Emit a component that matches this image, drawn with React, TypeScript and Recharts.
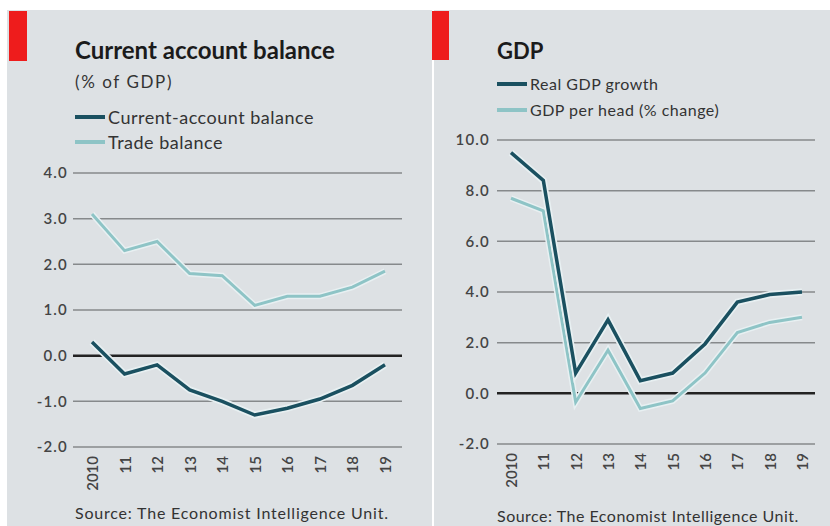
import React from 'react';
import { LineChart, Line, XAxis, YAxis, CartesianGrid } from 'recharts';

const years = ['2010', '11', '12', '13', '14', '15', '16', '17', '18', '19'];

const currentAccount = [0.3, -0.4, -0.2, -0.75, -1.0, -1.3, -1.15, -0.95, -0.65, -0.2];
const tradeBalance = [3.1, 2.3, 2.5, 1.8, 1.75, 1.1, 1.3, 1.3, 1.5, 1.85];
const realGdp = [9.5, 8.4, 0.8, 2.9, 0.5, 0.8, 1.95, 3.6, 3.9, 4.0];
const gdpPerHead = [7.7, 7.2, -0.35, 1.7, -0.6, -0.3, 0.8, 2.4, 2.8, 3.0];

const balanceTicks = [-2, -1, 0, 1, 2, 3, 4];
const gdpTicks = [-2, 0, 2, 4, 6, 8, 10];

const balanceData = years.map((year, i) => ({
  year,
  current: currentAccount[i],
  trade: tradeBalance[i],
}));

const gdpData = years.map((year, i) => ({
  year,
  real: realGdp[i],
  perHead: gdpPerHead[i],
}));

const DARK = '#1a5060';
const LIGHT = '#8ec4c6';
const HALO = '#e8f0f2';
const BG = '#dde1e4';
const GRID = '#86898b';
const FONT = 'Lato, "Open Sans", sans-serif';

const YearTick = (props: any) => {
  const { x, y, payload } = props;
  return (
    <g transform={`translate(${x},${y + 9})`}>
      <text
        transform="rotate(-90)"
        textAnchor="end"
        dominantBaseline="central"
        fill="#444"
        fontSize={15}
        fontFamily={FONT}
        fontWeight={600}
      >
        {payload.value}
      </text>
    </g>
  );
};

const LegendRow = ({ left, top, color, label, size, spacing }: any) => (
  <div style={{ position: 'absolute', left, top, display: 'flex', alignItems: 'center' }}>
    <div style={{ width: 30, height: 4, background: color, marginRight: 3 }} />
    <span style={{ fontSize: size, color: '#333', letterSpacing: spacing }}>{label}</span>
  </div>
);

export default function App() {
  const yTick = { fill: '#444', fontSize: 15, fontFamily: FONT, fontWeight: 600, letterSpacing: 1.2 };
  return (
    <div
      style={{
        position: 'absolute',
        left: 0,
        top: 0,
        width: 830,
        height: 526,
        background: '#fff',
        fontFamily: FONT,
        overflow: 'hidden',
      }}
    >
      {/* panel backgrounds */}
      <div style={{ position: 'absolute', left: 7, top: 10, width: 425, height: 516, background: BG }} />
      <div style={{ position: 'absolute', left: 434, top: 10, width: 396, height: 516, background: BG }} />
      <div style={{ position: 'absolute', left: 9, top: 11, width: 18, height: 50, background: '#ee1c1c' }} />
      <div style={{ position: 'absolute', left: 432, top: 11, width: 17, height: 49, background: '#ee1c1c' }} />

      {/* left header */}
      <div style={{ position: 'absolute', left: 75, top: 35, fontSize: 24, fontWeight: 700, color: '#1b1b1b' }}>
        Current account balance
      </div>
      <div style={{ position: 'absolute', left: 75, top: 71, fontSize: 17, color: '#333', letterSpacing: 1.6 }}>
        (% of GDP)
      </div>
      <LegendRow left={75} top={106} color={DARK} label="Current-account balance" size={18} spacing={0.5} />
      <LegendRow left={75} top={131} color={LIGHT} label="Trade balance" size={18} spacing={0.5} />

      {/* right header */}
      <div style={{ position: 'absolute', left: 497, top: 37, fontSize: 22, fontWeight: 700, color: '#1b1b1b' }}>
        GDP
      </div>
      <LegendRow left={497} top={74} color={DARK} label="Real GDP growth" size={16} spacing={0.5} />
      <LegendRow left={497} top={100} color={LIGHT} label="GDP per head (% change)" size={16} spacing={0.5} />

      <LineChart
        width={415}
        height={526}
        data={balanceData}
        margin={{ top: 173, right: 13, bottom: 0, left: 0 }}
        style={{ position: 'absolute', left: 0, top: 0 }}
      >
        <CartesianGrid vertical={false} stroke={GRID} strokeWidth={1.5} />
        <CartesianGrid vertical={false} horizontalValues={[0]} stroke="#222" strokeWidth={2.5} />
        <XAxis
          dataKey="year"
          height={79}
          axisLine={false}
          tickLine={false}
          tickSize={0}
          tickMargin={0}
          interval={0}
          padding={{ left: 19, right: 17 }}
          tick={<YearTick />}
        />
        <YAxis
          width={73}
          domain={[-2, 4]}
          ticks={balanceTicks}
          interval={0}
          axisLine={false}
          tickLine={false}
          tickSize={0}
          tickMargin={5}
          tick={yTick}
          tickFormatter={(v: number) => v.toFixed(1)}
        />
        <Line dataKey="trade" stroke={HALO} strokeWidth={6} dot={false} isAnimationActive={false} />
        <Line dataKey="trade" stroke={LIGHT} strokeWidth={3} dot={false} isAnimationActive={false} />
        <Line dataKey="current" stroke={HALO} strokeWidth={7} dot={false} isAnimationActive={false} />
        <Line dataKey="current" stroke={DARK} strokeWidth={3.5} dot={false} isAnimationActive={false} />
      </LineChart>

      <LineChart
        width={415}
        height={526}
        data={gdpData}
        margin={{ top: 140, right: 15, bottom: 0, left: 0 }}
        style={{ position: 'absolute', left: 415, top: 0 }}
      >
        <CartesianGrid vertical={false} stroke={GRID} strokeWidth={1.5} />
        <CartesianGrid vertical={false} horizontalValues={[0]} stroke="#222" strokeWidth={2.5} />
        <XAxis
          dataKey="year"
          height={82}
          axisLine={false}
          tickLine={false}
          tickSize={0}
          tickMargin={0}
          interval={0}
          padding={{ left: 14, right: 13 }}
          tick={<YearTick />}
        />
        <YAxis
          width={82}
          domain={[-2, 10]}
          ticks={gdpTicks}
          interval={0}
          axisLine={false}
          tickLine={false}
          tickSize={0}
          tickMargin={7}
          tick={yTick}
          tickFormatter={(v: number) => v.toFixed(1)}
        />
        <Line dataKey="perHead" stroke={HALO} strokeWidth={6} dot={false} isAnimationActive={false} />
        <Line dataKey="perHead" stroke={LIGHT} strokeWidth={3} dot={false} isAnimationActive={false} />
        <Line dataKey="real" stroke={HALO} strokeWidth={7} dot={false} isAnimationActive={false} />
        <Line dataKey="real" stroke={DARK} strokeWidth={3.5} dot={false} isAnimationActive={false} />
      </LineChart>

      {/* sources */}
      <div style={{ position: 'absolute', left: 75, top: 503, fontSize: 16, color: '#333', letterSpacing: 0.8 }}>
        Source: The Economist Intelligence Unit.
      </div>
      <div style={{ position: 'absolute', left: 497, top: 506, fontSize: 16, color: '#333', letterSpacing: 0.5 }}>
        Source: The Economist Intelligence Unit.
      </div>
    </div>
  );
}
